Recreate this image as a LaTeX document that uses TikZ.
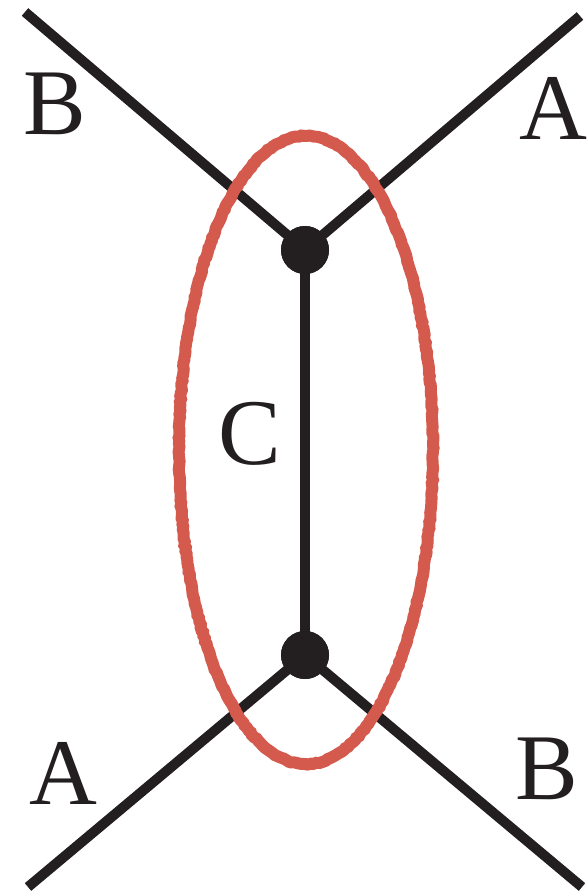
\documentclass[tikz,border=0pt]{standalone}
\usepackage{fontspec}
\setmainfont{Liberation Serif}
\usetikzlibrary{decorations.pathmorphing}
\definecolor{inkblack}{HTML}{231F20}
\definecolor{chalkred}{HTML}{D45A4E}
\tikzset{
  leg/.style={draw=inkblack, line width=10pt},
  vertexdot/.style={circle, fill=inkblack, minimum size=48pt, inner sep=0pt},
  lbl/.style={text=inkblack, inner sep=0pt, font=\fontsize{94}{100}\selectfont},
  loopmark/.style={draw=chalkred, line width=12pt, decorate,
    decoration={random steps, segment length=3pt, amplitude=0.6pt}}
}
\begin{document}
\begin{tikzpicture}[x=1pt, y=-1pt]
\useasboundingbox (0,0) rectangle (587,892);
\coordinate (e1) at (25,12);
\coordinate (e2) at (580,16);
\coordinate (e3) at (28,887);
\coordinate (e4) at (582,887);
\node[vertexdot] (v1) at (305,250) {};
\node[vertexdot] (v2) at (305,655) {};
\draw[leg] (e1) -- (v1.center);
\draw[leg] (e2) -- (v1.center);
\draw[leg] (v1.center) -- (v2.center);
\draw[leg] (e3) -- (v2.center);
\draw[leg] (e4) -- (v2.center);
\node[vertexdot] at (v1) {};
\node[vertexdot] at (v2) {};
\draw[loopmark] (306,450) ellipse [x radius=127, y radius=314];
\node[lbl] (lB1) at (55,104) {B};
\node[lbl] (lA1) at (553,108) {A};
\node[lbl] (lC) at (250,434) {C};
\node[lbl] (lA2) at (63,773) {A};
\node[lbl] (lB2) at (547,769) {B};
\end{tikzpicture}
\end{document}
